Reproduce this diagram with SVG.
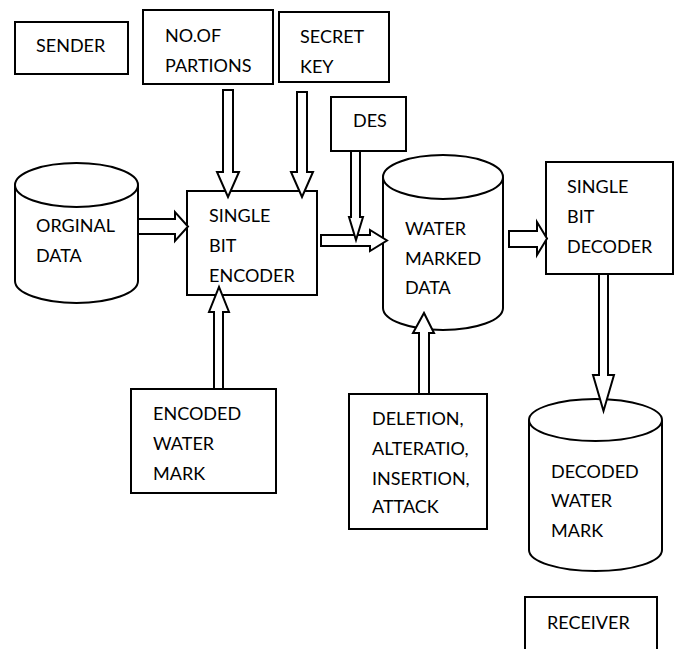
<svg xmlns="http://www.w3.org/2000/svg" width="680" height="649" viewBox="0 0 680 649">
<style>
.b{fill:#fff;stroke:#000;stroke-width:2}
.c{fill:#fff;stroke:#000;stroke-width:2}
.t{font-family:Lato,"Open Sans","Liberation Sans",sans-serif;font-size:18px;fill:#000}
.a{fill:#fff;stroke:#000;stroke-width:2;stroke-linejoin:miter}
</style>
<rect width="680" height="649" fill="#fff"/>
<g id="sender"><rect class="b" x="15" y="22" width="113" height="52"/><text class="t" x="36" y="52">SENDER</text></g>
<g id="partitions"><rect class="b" x="143" y="10" width="130" height="74"/><text class="t" x="165" y="42">NO.OF</text><text class="t" x="165" y="72">PARTIONS</text></g>
<g id="secretkey"><rect class="b" x="279" y="12" width="110" height="70"/><text class="t" x="300" y="43">SECRET</text><text class="t" x="300" y="73">KEY</text></g>
<g id="des"><rect class="b" x="331" y="97" width="75" height="54"/><text class="t" x="353" y="127">DES</text></g>
<g id="original"><path class="c" d="M15,185 L15,281 A61.5,22 0 0 0 138,281 L138,185"/><ellipse class="c" cx="76.5" cy="185" rx="61.5" ry="22"/><text class="t" x="36" y="232">ORGINAL</text><text class="t" x="36" y="262">DATA</text></g>
<g id="encoder"><rect class="b" x="187" y="191" width="130" height="104"/><text class="t" x="209" y="222">SINGLE</text><text class="t" x="209" y="252">BIT</text><text class="t" x="209" y="282">ENCODER</text></g>
<g id="watermarked"><path class="c" d="M383,177 L383,308 A60,22 0 0 0 503,308 L503,177"/><ellipse class="c" cx="443" cy="177" rx="60" ry="22"/><text class="t" x="405" y="235">WATER</text><text class="t" x="405" y="265">MARKED</text><text class="t" x="405" y="294">DATA</text></g>
<g id="decoder"><rect class="b" x="546" y="162" width="127" height="112"/><text class="t" x="567" y="193">SINGLE</text><text class="t" x="567" y="223">BIT</text><text class="t" x="567" y="253">DECODER</text></g>
<g id="encodedmark"><rect class="b" x="131" y="389" width="145" height="104"/><text class="t" x="153" y="420">ENCODED</text><text class="t" x="153" y="450">WATER</text><text class="t" x="153" y="480">MARK</text></g>
<g id="attack"><rect class="b" x="349" y="394" width="138" height="135"/><text class="t" x="372" y="425">DELETION,</text><text class="t" x="372" y="455">ALTERATIO,</text><text class="t" x="372" y="485">INSERTION,</text><text class="t" x="372" y="513">ATTACK</text></g>
<g id="decodedmark"><path class="c" d="M529,420 L529,550 A66.5,21 0 0 0 662,550 L662,420"/><ellipse class="c" cx="595.5" cy="420" rx="66.5" ry="21"/><text class="t" x="551" y="478">DECODED</text><text class="t" x="551" y="507">WATER</text><text class="t" x="551" y="537">MARK</text></g>
<g id="receiver"><path class="b" d="M525,652 L525,597 L657,597 L657,652"/><text class="t" x="547" y="629">RECEIVER</text></g>
<g id="connectors">
<polygon class="a" points="223,90 233,90 233,172 239,172 228,197 217,172 223,172"/>
<polygon class="a" points="297,92 307,92 307,172 313,172 302,197 291,172 297,172"/>
<polygon class="a" points="138,219 175,219 175,212 188,226.5 175,241 175,234 138,234"/>
<polygon class="a" points="321,235 370,235 370,230 387,240.5 370,251 370,246 321,246"/>
<polygon class="a" points="351,151 360,151 360,217 363,217 356,240 349,217 351,217"/>
<polygon class="a" points="509,231 537,231 537,222 547,238.5 537,255 537,247 509,247"/>
<polygon class="a" points="599,274 608,274 608,375 614,375 603.5,411 593,375 599,375"/>
<polygon class="a" points="214,389 223,389 223,312 229,312 219,287 209,312 214,312"/>
<polygon class="a" points="419,394 429,394 429,333 434,333 424,313 413,333 419,333"/>
</g>
</svg>
